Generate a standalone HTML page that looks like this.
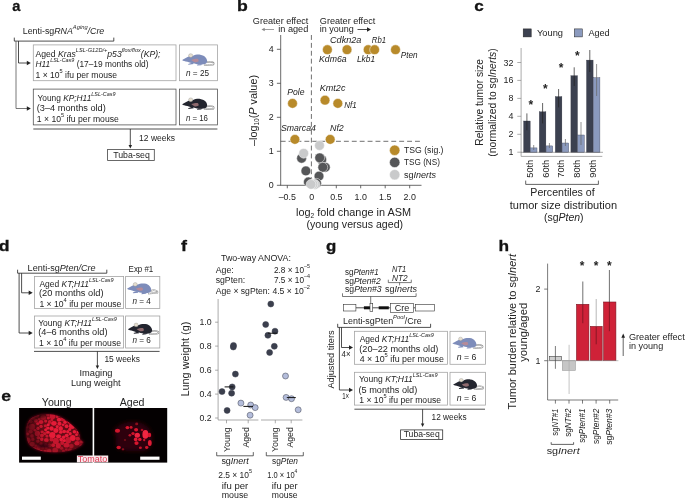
<!DOCTYPE html>
<html><head><meta charset="utf-8"><title>Figure</title>
<style>
html,body{margin:0;padding:0;background:#fff;overflow:hidden}
svg{display:block}
svg text{font-family:"Liberation Sans",sans-serif;fill:#242424}
</style></head><body>
<svg width="685" height="499" viewBox="0 0 685 499">
<rect width="685" height="499" fill="#fff"/>
<text x="12.27" y="10.9" font-size="15.0" font-weight="bold" style="fill:#141414" stroke="#141414" stroke-width="0.3" textLength="8.14" lengthAdjust="spacingAndGlyphs">a</text>
<text x="22.8" y="34.3" font-size="8.9" textLength="81.5" lengthAdjust="spacingAndGlyphs">Lenti-sg<tspan font-style="italic">RNA</tspan><tspan font-size="5.8" baseline-shift="5.4" font-style="italic">Aging</tspan><tspan font-style="italic">/Cre</tspan></text>
<path d="M14.3 37.6 V41.1 H113.8 V37.6" stroke="#222" stroke-width="0.8" fill="none" />
<path d="M16 41.1 V108.5 H27" stroke="#555" stroke-width="0.8" fill="none" />
<path d="M18.5 41.1 V63 H27" stroke="#222" stroke-width="0.8" fill="none" />
<path d="M30.8 63 L26.8 60.8 L26.8 65.2Z" fill="#222"/>
<path d="M30.8 108.5 L26.8 106.3 L26.8 110.7Z" fill="#222"/>
<rect x="33.3" y="44.9" width="142.7" height="35.8" fill="none" stroke="#a4a4a4" stroke-width="0.8" />
<rect x="179.5" y="44.9" width="37.9" height="35.8" fill="none" stroke="#a4a4a4" stroke-width="0.8" />
<rect x="33.3" y="89.1" width="142.7" height="35.8" fill="none" stroke="#555" stroke-width="0.8" />
<rect x="179.5" y="89.1" width="37.9" height="35.8" fill="none" stroke="#555" stroke-width="0.8" />
<text x="35.5" y="56.7" font-size="8.9" textLength="125" lengthAdjust="spacingAndGlyphs">Aged <tspan font-style="italic">Kras</tspan><tspan font-size="5.8" baseline-shift="5.4" font-style="italic">LSL-G12D/+</tspan><tspan font-style="italic">p53</tspan><tspan font-size="5.8" baseline-shift="5.4" font-style="italic">flox/flox</tspan><tspan font-style="italic">(KP);</tspan></text>
<text x="35.5" y="67.2" font-size="8.9" textLength="113" lengthAdjust="spacingAndGlyphs"><tspan font-style="italic">H11</tspan><tspan font-size="5.8" baseline-shift="5.4" font-style="italic">LSL-Cas9</tspan> (17–19 months old)</text>
<text x="35.5" y="77.9" font-size="8.9" textLength="81.5" lengthAdjust="spacingAndGlyphs">1 × 10<tspan font-size="5.8" baseline-shift="5.2">5</tspan> ifu per mouse</text>
<text x="37.5" y="100.5" font-size="8.9" textLength="78" lengthAdjust="spacingAndGlyphs">Young <tspan font-style="italic">KP;H11</tspan><tspan font-size="5.8" baseline-shift="5.4" font-style="italic">LSL-Cas9</tspan></text>
<text x="36.8" y="111.3" font-size="8.9" textLength="69" lengthAdjust="spacingAndGlyphs">(3–4 months old)</text>
<text x="36.8" y="121.9" font-size="8.9" textLength="82" lengthAdjust="spacingAndGlyphs">1 × 10<tspan font-size="5.8" baseline-shift="5.2">5</tspan> ifu per mouse</text>
<g transform="translate(182.2 59.8) scale(1.0)">
<path d="M23.6 2.6 C26 1.9 28.6 1.6 30.4 2.4 C32.2 3.3 31.8 5 29.8 5 C27.4 4.9 25 4.6 22.4 5.3" fill="none" stroke="#6e6e6e" stroke-width="1.5" stroke-linecap="round"/>
<path d="M23.6 2.6 C26 1.9 28.6 1.6 30.4 2.4 C32.2 3.3 31.8 5 29.8 5 C27.4 4.9 25 4.6 22.4 5.3" fill="none" stroke="#fff" stroke-width="0.8" stroke-linecap="round"/>
<path d="M10.5 2.6 L6 4.2 L6.2 4.9 L11.6 4.3 Z M16 4.4 L14.8 5.3 L15 5.8 L19 5.4 L20 4.6Z" fill="#7d8cba"/>
<path d="M0 0.3 C2.2 -1 4.8 -2.6 7.2 -3.5 C8.5 -3.6 9.6 -3.4 10.6 -3.8 C12.6 -5 15.6 -5.4 18 -5.1 C20.6 -4.8 22.4 -3.6 23.4 -2.4 C24.8 -0.8 25.4 1.4 24.6 2.8 C23.8 4.2 22 4.6 19.6 4.8 C16.5 5 13.8 4.2 11.4 3.5 C9.2 3.4 7 2.6 5.2 2 C3 1.6 0.6 1.3 0 0.3Z" fill="#7d8cba"/>
<ellipse cx="8.5" cy="-4.2" rx="2.1" ry="1.9" fill="#e6dfd0" stroke="#777" stroke-width="0.3"/>
<path d="M9 0.1 C11 -0.7 13.6 -1.2 15.4 -1.1 C16.4 -0.4 16.7 0.8 16.2 1.7 C15 2.3 13.8 2.5 12.6 2.4 C11.2 1.8 10 1 9 0.1Z" fill="#b58a98"/>
</g>
<g transform="translate(182.2 104) scale(1.0)">
<path d="M23.6 2.6 C26 1.9 28.6 1.6 30.4 2.4 C32.2 3.3 31.8 5 29.8 5 C27.4 4.9 25 4.6 22.4 5.3" fill="none" stroke="#6e6e6e" stroke-width="1.5" stroke-linecap="round"/>
<path d="M23.6 2.6 C26 1.9 28.6 1.6 30.4 2.4 C32.2 3.3 31.8 5 29.8 5 C27.4 4.9 25 4.6 22.4 5.3" fill="none" stroke="#fff" stroke-width="0.8" stroke-linecap="round"/>
<path d="M10.5 2.6 L6 4.2 L6.2 4.9 L11.6 4.3 Z M16 4.4 L14.8 5.3 L15 5.8 L19 5.4 L20 4.6Z" fill="#23252f"/>
<path d="M0 0.3 C2.2 -1 4.8 -2.6 7.2 -3.5 C8.5 -3.6 9.6 -3.4 10.6 -3.8 C12.6 -5 15.6 -5.4 18 -5.1 C20.6 -4.8 22.4 -3.6 23.4 -2.4 C24.8 -0.8 25.4 1.4 24.6 2.8 C23.8 4.2 22 4.6 19.6 4.8 C16.5 5 13.8 4.2 11.4 3.5 C9.2 3.4 7 2.6 5.2 2 C3 1.6 0.6 1.3 0 0.3Z" fill="#23252f"/>
<ellipse cx="8.5" cy="-4.2" rx="2.1" ry="1.9" fill="#e6dfd0" stroke="#777" stroke-width="0.3"/>
<path d="M9 0.1 C11 -0.7 13.6 -1.2 15.4 -1.1 C16.4 -0.4 16.7 0.8 16.2 1.7 C15 2.3 13.8 2.5 12.6 2.4 C11.2 1.8 10 1 9 0.1Z" fill="#8f6a6e"/>
</g>
<text x="186" y="76.3" font-size="8.9" textLength="23" lengthAdjust="spacingAndGlyphs"><tspan font-style="italic">n</tspan> = 25</text>
<text x="186" y="120.5" font-size="8.9" textLength="22" lengthAdjust="spacingAndGlyphs"><tspan font-style="italic">n</tspan> = 16</text>
<line x1="33.3" y1="129" x2="217.4" y2="129" stroke="#222" stroke-width="0.8" />
<line x1="130.3" y1="129" x2="130.3" y2="146" stroke="#222" stroke-width="0.8" />
<path d="M130.3 148.6 L128.572 145.0 L132.02800000000002 145.0Z" fill="#222"/>
<text x="139.1" y="140.6" font-size="8.9" textLength="36" lengthAdjust="spacingAndGlyphs">12 weeks</text>
<rect x="107.6" y="149.4" width="46.7" height="11.1" fill="none" stroke="#444" stroke-width="0.8" />
<text x="131.5" y="157.5" font-size="8.9" text-anchor="middle" textLength="36.7" lengthAdjust="spacingAndGlyphs">Tuba-seq</text>
<text x="237.14" y="10.9" font-size="15.0" font-weight="bold" style="fill:#141414" stroke="#141414" stroke-width="0.3" textLength="10.79" lengthAdjust="spacingAndGlyphs">b</text>
<text x="252.8" y="24" font-size="8.9" textLength="55.5" lengthAdjust="spacingAndGlyphs">Greater effect</text>
<text x="308.3" y="32.2" font-size="8.9" text-anchor="end" textLength="30" lengthAdjust="spacingAndGlyphs">in aged</text>
<line x1="264" y1="29.5" x2="274" y2="29.5" stroke="#888" stroke-width="0.8" />
<path d="M261.5 29.5 L264.7 27.74 L264.7 31.26Z" fill="#888"/>
<text x="319.8" y="24" font-size="8.9" textLength="55.5" lengthAdjust="spacingAndGlyphs">Greater effect</text>
<text x="319.8" y="32.2" font-size="8.9" textLength="34" lengthAdjust="spacingAndGlyphs">in young</text>
<line x1="357.5" y1="29.5" x2="368" y2="29.5" stroke="#222" stroke-width="0.8" />
<path d="M371 29.5 L367 27.3 L367 31.7Z" fill="#222"/>
<line x1="280.7" y1="35" x2="280.7" y2="185.3" stroke="#444" stroke-width="0.8" />
<line x1="280.3" y1="185.3" x2="421.5" y2="185.3" stroke="#444" stroke-width="0.8" />
<line x1="276.9" y1="49.3" x2="280.7" y2="49.3" stroke="#444" stroke-width="0.8" />
<text x="273.7" y="52.3" font-size="8.9" text-anchor="end">4</text>
<line x1="276.9" y1="83.3" x2="280.7" y2="83.3" stroke="#444" stroke-width="0.8" />
<text x="273.7" y="86.3" font-size="8.9" text-anchor="end">3</text>
<line x1="276.9" y1="117.3" x2="280.7" y2="117.3" stroke="#444" stroke-width="0.8" />
<text x="273.7" y="120.3" font-size="8.9" text-anchor="end">2</text>
<line x1="276.9" y1="151.3" x2="280.7" y2="151.3" stroke="#444" stroke-width="0.8" />
<text x="273.7" y="154.3" font-size="8.9" text-anchor="end">1</text>
<line x1="276.9" y1="185.3" x2="280.7" y2="185.3" stroke="#444" stroke-width="0.8" />
<text x="273.7" y="188.3" font-size="8.9" text-anchor="end">0</text>
<line x1="287.3" y1="185.3" x2="287.3" y2="188.3" stroke="#444" stroke-width="0.8" />
<text x="287.3" y="199.8" font-size="8.9" text-anchor="middle">–0.5</text>
<line x1="311.8" y1="185.3" x2="311.8" y2="188.3" stroke="#444" stroke-width="0.8" />
<text x="311.8" y="199.8" font-size="8.9" text-anchor="middle">0</text>
<line x1="336.3" y1="185.3" x2="336.3" y2="188.3" stroke="#444" stroke-width="0.8" />
<text x="336.3" y="199.8" font-size="8.9" text-anchor="middle">0.5</text>
<line x1="360.7" y1="185.3" x2="360.7" y2="188.3" stroke="#444" stroke-width="0.8" />
<text x="360.7" y="199.8" font-size="8.9" text-anchor="middle">1.0</text>
<line x1="385.2" y1="185.3" x2="385.2" y2="188.3" stroke="#444" stroke-width="0.8" />
<text x="385.2" y="199.8" font-size="8.9" text-anchor="middle">1.5</text>
<line x1="409.7" y1="185.3" x2="409.7" y2="188.3" stroke="#444" stroke-width="0.8" />
<text x="409.7" y="199.8" font-size="8.9" text-anchor="middle">2.0</text>
<line x1="311.4" y1="35" x2="311.4" y2="185.3" stroke="#333" stroke-width="0.7" stroke-dasharray="4.9 3"/>
<line x1="280.7" y1="141.3" x2="421.5" y2="141.3" stroke="#333" stroke-width="0.7" stroke-dasharray="4.9 3"/>
<text x="257" y="110.5" font-size="10.7" text-anchor="middle" textLength="71" lengthAdjust="spacingAndGlyphs" transform="rotate(-90 257 110.5)">–log<tspan font-size="6.5" baseline-shift="-2">10</tspan>(<tspan font-style="italic">P</tspan> value)</text>
<circle cx="301.6" cy="158.3" r="4.9" fill="#555658" stroke="#fff" stroke-width="0.5"/>
<circle cx="303.7" cy="153.3" r="4.9" fill="#c9cacb" stroke="#fff" stroke-width="0.5"/>
<circle cx="319.5" cy="145.5" r="4.9" fill="#c9cacb" stroke="#fff" stroke-width="0.5"/>
<circle cx="321.7" cy="159.8" r="4.9" fill="#555658" stroke="#fff" stroke-width="0.5"/>
<circle cx="319.7" cy="157.8" r="4.9" fill="#555658" stroke="#fff" stroke-width="0.5"/>
<circle cx="325.3" cy="167.3" r="4.9" fill="#555658" stroke="#fff" stroke-width="0.5"/>
<circle cx="322.8" cy="167.3" r="4.9" fill="#555658" stroke="#fff" stroke-width="0.5"/>
<circle cx="305.9" cy="170.9" r="4.9" fill="#555658" stroke="#fff" stroke-width="0.5"/>
<circle cx="319" cy="176.1" r="4.9" fill="#555658" stroke="#fff" stroke-width="0.5"/>
<circle cx="308.4" cy="181.9" r="4.9" fill="#555658" stroke="#fff" stroke-width="0.5"/>
<circle cx="316.5" cy="183.3" r="4.9" fill="#555658" stroke="#fff" stroke-width="0.5"/>
<circle cx="315" cy="184.5" r="4.9" fill="#c9cacb" stroke="#fff" stroke-width="0.5"/>
<circle cx="313" cy="184.2" r="4.9" fill="#c9cacb" stroke="#fff" stroke-width="0.5"/>
<circle cx="311" cy="184.4" r="4.9" fill="#c9cacb" stroke="#fff" stroke-width="0.5"/>
<circle cx="327.4" cy="49.7" r="4.9" fill="#b88a2a" stroke="#fff" stroke-width="0.5"/>
<circle cx="347" cy="49.7" r="4.9" fill="#b88a2a" stroke="#fff" stroke-width="0.5"/>
<circle cx="368.2" cy="49.7" r="4.9" fill="#b88a2a" stroke="#fff" stroke-width="0.5"/>
<circle cx="374.6" cy="49.7" r="4.9" fill="#b88a2a" stroke="#fff" stroke-width="0.5"/>
<circle cx="395.5" cy="49.7" r="4.9" fill="#b88a2a" stroke="#fff" stroke-width="0.5"/>
<circle cx="292.5" cy="103.4" r="4.9" fill="#b88a2a" stroke="#fff" stroke-width="0.5"/>
<circle cx="325" cy="100.2" r="4.9" fill="#b88a2a" stroke="#fff" stroke-width="0.5"/>
<circle cx="337.8" cy="103.4" r="4.9" fill="#b88a2a" stroke="#fff" stroke-width="0.5"/>
<circle cx="294.9" cy="139.4" r="4.9" fill="#b88a2a" stroke="#fff" stroke-width="0.5"/>
<circle cx="330.2" cy="139.4" r="4.9" fill="#b88a2a" stroke="#fff" stroke-width="0.5"/>
<text x="330" y="42.9" font-size="8.7" textLength="31.4" lengthAdjust="spacingAndGlyphs" font-style="italic">Cdkn2a</text>
<text x="371.8" y="42.9" font-size="8.7" textLength="14.2" lengthAdjust="spacingAndGlyphs" font-style="italic">Rb1</text>
<text x="319" y="62" font-size="8.7" textLength="27.6" lengthAdjust="spacingAndGlyphs" font-style="italic">Kdm6a</text>
<text x="357" y="62" font-size="8.7" textLength="18" lengthAdjust="spacingAndGlyphs" font-style="italic">Lkb1</text>
<text x="400.7" y="58" font-size="8.7" textLength="16.8" lengthAdjust="spacingAndGlyphs" font-style="italic">Pten</text>
<text x="287.3" y="95.4" font-size="8.7" textLength="17.2" lengthAdjust="spacingAndGlyphs" font-style="italic">Pole</text>
<text x="319.8" y="91.4" font-size="8.7" textLength="25.6" lengthAdjust="spacingAndGlyphs" font-style="italic">Kmt2c</text>
<text x="344.2" y="108.2" font-size="8.7" textLength="12.4" lengthAdjust="spacingAndGlyphs" font-style="italic">Nf1</text>
<text x="280.9" y="131" font-size="8.7" textLength="35" lengthAdjust="spacingAndGlyphs" font-style="italic">Smarca4</text>
<text x="330" y="131" font-size="8.7" textLength="13.8" lengthAdjust="spacingAndGlyphs" font-style="italic">Nf2</text>
<circle cx="394.7" cy="150.3" r="5.2" fill="#b88a2a" stroke="#fff" stroke-width="0.5"/>
<text x="404" y="153.2" font-size="8.9" textLength="39.5" lengthAdjust="spacingAndGlyphs">TSG (sig.)</text>
<circle cx="394.7" cy="162.4" r="5.2" fill="#555658" stroke="#fff" stroke-width="0.5"/>
<text x="404" y="165.4" font-size="8.9" textLength="36" lengthAdjust="spacingAndGlyphs">TSG (NS)</text>
<circle cx="394.7" cy="174.7" r="5.2" fill="#c9cacb" stroke="#fff" stroke-width="0.5"/>
<text x="404" y="177.7" font-size="8.9" textLength="32" lengthAdjust="spacingAndGlyphs">sg<tspan font-style="italic">Inerts</tspan></text>
<text x="353.5" y="216" font-size="10.7" text-anchor="middle" textLength="115" lengthAdjust="spacingAndGlyphs">log<tspan font-size="6.5" baseline-shift="-2.2">2</tspan> fold change in ASM</text>
<text x="354.8" y="228.4" font-size="10.7" text-anchor="middle" textLength="96.5" lengthAdjust="spacingAndGlyphs">(young versus aged)</text>
<text x="474.33" y="10.9" font-size="15.0" font-weight="bold" style="fill:#141414" stroke="#141414" stroke-width="0.3" textLength="9.46" lengthAdjust="spacingAndGlyphs">c</text>
<rect x="523.2" y="28.9" width="8" height="8" fill="#3c4150" stroke="#222" stroke-width="0.5" />
<text x="537" y="35.7" font-size="8.9" textLength="26" lengthAdjust="spacingAndGlyphs">Young</text>
<rect x="574.3" y="28.9" width="8" height="8" fill="#8b9abe" stroke="#222" stroke-width="0.5" />
<text x="588.4" y="35.7" font-size="8.9" textLength="21.3" lengthAdjust="spacingAndGlyphs">Aged</text>
<line x1="521.1" y1="48" x2="521.1" y2="156.4" stroke="#888" stroke-width="0.7" />
<line x1="521.1" y1="156.4" x2="602.3" y2="156.4" stroke="#888" stroke-width="0.7" />
<line x1="517.3" y1="62.5" x2="521.1" y2="62.5" stroke="#888" stroke-width="0.7" />
<text x="513.4" y="65.5" font-size="8.9" text-anchor="end">32</text>
<line x1="517.3" y1="80.4" x2="521.1" y2="80.4" stroke="#888" stroke-width="0.7" />
<text x="513.4" y="83.4" font-size="8.9" text-anchor="end">16</text>
<line x1="517.3" y1="98.4" x2="521.1" y2="98.4" stroke="#888" stroke-width="0.7" />
<text x="513.4" y="101.4" font-size="8.9" text-anchor="end">8</text>
<line x1="517.3" y1="116.3" x2="521.1" y2="116.3" stroke="#888" stroke-width="0.7" />
<text x="513.4" y="119.3" font-size="8.9" text-anchor="end">4</text>
<line x1="517.3" y1="134.3" x2="521.1" y2="134.3" stroke="#888" stroke-width="0.7" />
<text x="513.4" y="137.3" font-size="8.9" text-anchor="end">2</text>
<line x1="517.3" y1="152.2" x2="521.1" y2="152.2" stroke="#888" stroke-width="0.7" />
<text x="513.4" y="155.2" font-size="8.9" text-anchor="end">1</text>
<rect x="523.6" y="121" width="6.6" height="31.30000000000001" fill="#3c4150" stroke="#2a2d38" stroke-width="0.3" />
<rect x="530.4" y="147.9" width="6.6" height="4.400000000000006" fill="#8b9abe" stroke="#444a60" stroke-width="0.4" />
<line x1="526.9" y1="113.4" x2="526.9" y2="130.2" stroke="#222" stroke-width="0.7" />
<line x1="533.7" y1="145" x2="533.7" y2="150" stroke="#666" stroke-width="0.7" />
<rect x="539.3000000000001" y="111.8" width="6.6" height="40.500000000000014" fill="#3c4150" stroke="#2a2d38" stroke-width="0.3" />
<rect x="546.1" y="145.9" width="6.6" height="6.400000000000006" fill="#8b9abe" stroke="#444a60" stroke-width="0.4" />
<line x1="542.6" y1="103" x2="542.6" y2="123.4" stroke="#222" stroke-width="0.7" />
<line x1="549.4000000000001" y1="143" x2="549.4000000000001" y2="148" stroke="#666" stroke-width="0.7" />
<rect x="555.3000000000001" y="96.6" width="6.6" height="55.70000000000002" fill="#3c4150" stroke="#2a2d38" stroke-width="0.3" />
<rect x="562.1" y="143" width="6.6" height="9.300000000000011" fill="#8b9abe" stroke="#444a60" stroke-width="0.4" />
<line x1="558.6" y1="89" x2="558.6" y2="107.4" stroke="#222" stroke-width="0.7" />
<line x1="565.4000000000001" y1="139" x2="565.4000000000001" y2="146" stroke="#666" stroke-width="0.7" />
<rect x="570.9" y="75.7" width="6.6" height="76.60000000000001" fill="#3c4150" stroke="#2a2d38" stroke-width="0.3" />
<rect x="577.6999999999999" y="135" width="6.6" height="17.30000000000001" fill="#8b9abe" stroke="#444a60" stroke-width="0.4" />
<line x1="574.1999999999999" y1="67.3" x2="574.1999999999999" y2="86" stroke="#222" stroke-width="0.7" />
<line x1="581.0" y1="122" x2="581.0" y2="145" stroke="#666" stroke-width="0.7" />
<rect x="586.5" y="60.1" width="6.6" height="92.20000000000002" fill="#3c4150" stroke="#2a2d38" stroke-width="0.3" />
<rect x="593.3" y="77.7" width="6.6" height="74.60000000000001" fill="#8b9abe" stroke="#444a60" stroke-width="0.4" />
<line x1="589.8" y1="50" x2="589.8" y2="72" stroke="#222" stroke-width="0.7" />
<line x1="596.6" y1="64" x2="596.6" y2="96" stroke="#666" stroke-width="0.7" />
<line x1="521" y1="152.3" x2="603" y2="152.3" stroke="#555" stroke-width="0.5" />
<text x="530.9" y="108.8" font-size="12" text-anchor="middle" font-weight="bold">*</text>
<text x="545.3" y="92.5" font-size="12" text-anchor="middle" font-weight="bold">*</text>
<text x="561.1" y="72.0" font-size="12" text-anchor="middle" font-weight="bold">*</text>
<text x="577.4" y="59.7" font-size="12" text-anchor="middle" font-weight="bold">*</text>
<text x="532.8000000000001" y="177.7" font-size="8.9" textLength="17.9" lengthAdjust="spacingAndGlyphs" transform="rotate(-90 532.8000000000001 177.7)">50th</text>
<text x="548.6" y="177.7" font-size="8.9" textLength="17.9" lengthAdjust="spacingAndGlyphs" transform="rotate(-90 548.6 177.7)">60th</text>
<text x="564.2" y="177.7" font-size="8.9" textLength="17.9" lengthAdjust="spacingAndGlyphs" transform="rotate(-90 564.2 177.7)">70th</text>
<text x="580.3000000000001" y="177.7" font-size="8.9" textLength="17.9" lengthAdjust="spacingAndGlyphs" transform="rotate(-90 580.3000000000001 177.7)">80th</text>
<text x="595.9" y="177.7" font-size="8.9" textLength="17.9" lengthAdjust="spacingAndGlyphs" transform="rotate(-90 595.9 177.7)">90th</text>
<path d="M525.7 180.6 V184.4 H598.4 V180.6" stroke="#222" stroke-width="0.7" fill="none" />
<text x="562.5" y="196.4" font-size="10.7" text-anchor="middle" textLength="64.3" lengthAdjust="spacingAndGlyphs">Percentiles of</text>
<text x="563.4" y="208.8" font-size="10.7" text-anchor="middle" textLength="107.3" lengthAdjust="spacingAndGlyphs">tumor size distribution</text>
<text x="563.8" y="221" font-size="10.7" text-anchor="middle" textLength="39.6" lengthAdjust="spacingAndGlyphs">(sg<tspan font-style="italic">Pten</tspan>)</text>
<text x="483" y="102.3" font-size="10.7" text-anchor="middle" textLength="86.7" lengthAdjust="spacingAndGlyphs" transform="rotate(-90 483 102.3)">Relative tumor size</text>
<text x="495.6" y="102.5" font-size="10.7" text-anchor="middle" textLength="108.3" lengthAdjust="spacingAndGlyphs" transform="rotate(-90 495.6 102.5)">(normalized to sg<tspan font-style="italic">Inerts</tspan>)</text>
<text x="-1.32" y="250.7" font-size="15.0" font-weight="bold" style="fill:#141414" stroke="#141414" stroke-width="0.3" textLength="10.79" lengthAdjust="spacingAndGlyphs">d</text>
<text x="27.6" y="270.7" font-size="8.9" textLength="68" lengthAdjust="spacingAndGlyphs">Lenti-sg<tspan font-style="italic">Pten/Cre</tspan></text>
<text x="128.6" y="272" font-size="8.9" textLength="24.7" lengthAdjust="spacingAndGlyphs">Exp #1</text>
<path d="M17.6 269.7 V273.2 H106.8 V269.7" stroke="#222" stroke-width="0.8" fill="none" />
<path d="M19.1 273.2 V333 H29.7" stroke="#222" stroke-width="0.8" fill="none" />
<path d="M21.6 273.2 V292.8 H29.7" stroke="#222" stroke-width="0.8" fill="none" />
<path d="M32.7 292.8 L28.700000000000003 290.6 L28.700000000000003 295.0Z" fill="#222"/>
<path d="M32.7 333 L28.700000000000003 330.8 L28.700000000000003 335.2Z" fill="#222"/>
<rect x="34.4" y="276.5" width="89.2" height="31.9" fill="none" stroke="#a4a4a4" stroke-width="0.8" />
<rect x="125.6" y="276.5" width="34.2" height="31.9" fill="none" stroke="#a4a4a4" stroke-width="0.8" />
<rect x="34.4" y="316" width="89.2" height="32" fill="none" stroke="#a4a4a4" stroke-width="0.8" />
<rect x="125.6" y="316" width="34.2" height="32" fill="none" stroke="#a4a4a4" stroke-width="0.8" />
<text x="39.4" y="286.6" font-size="8.9" textLength="74.2" lengthAdjust="spacingAndGlyphs">Aged <tspan font-style="italic">KT;H11</tspan><tspan font-size="5.8" baseline-shift="5.4" font-style="italic">LSL-Cas9</tspan></text>
<text x="39" y="295.6" font-size="8.9" textLength="64.5" lengthAdjust="spacingAndGlyphs">(20 months old)</text>
<text x="39.4" y="306.8" font-size="8.9" textLength="82" lengthAdjust="spacingAndGlyphs">1 × 10<tspan font-size="5.8" baseline-shift="5.2">4</tspan> ifu per mouse</text>
<text x="38.2" y="325.6" font-size="8.9" textLength="78.6" lengthAdjust="spacingAndGlyphs">Young <tspan font-style="italic">KT;H11</tspan><tspan font-size="5.8" baseline-shift="5.4" font-style="italic">LSL-Cas9</tspan></text>
<text x="38.2" y="335.2" font-size="8.9" textLength="69.3" lengthAdjust="spacingAndGlyphs">(4–6 months old)</text>
<text x="39" y="345.8" font-size="8.9" textLength="82" lengthAdjust="spacingAndGlyphs">1 × 10<tspan font-size="5.8" baseline-shift="5.2">4</tspan> ifu per mouse</text>
<g transform="translate(127 288.5) scale(0.97)">
<path d="M23.6 2.6 C26 1.9 28.6 1.6 30.4 2.4 C32.2 3.3 31.8 5 29.8 5 C27.4 4.9 25 4.6 22.4 5.3" fill="none" stroke="#6e6e6e" stroke-width="1.5" stroke-linecap="round"/>
<path d="M23.6 2.6 C26 1.9 28.6 1.6 30.4 2.4 C32.2 3.3 31.8 5 29.8 5 C27.4 4.9 25 4.6 22.4 5.3" fill="none" stroke="#fff" stroke-width="0.8" stroke-linecap="round"/>
<path d="M10.5 2.6 L6 4.2 L6.2 4.9 L11.6 4.3 Z M16 4.4 L14.8 5.3 L15 5.8 L19 5.4 L20 4.6Z" fill="#7d8cba"/>
<path d="M0 0.3 C2.2 -1 4.8 -2.6 7.2 -3.5 C8.5 -3.6 9.6 -3.4 10.6 -3.8 C12.6 -5 15.6 -5.4 18 -5.1 C20.6 -4.8 22.4 -3.6 23.4 -2.4 C24.8 -0.8 25.4 1.4 24.6 2.8 C23.8 4.2 22 4.6 19.6 4.8 C16.5 5 13.8 4.2 11.4 3.5 C9.2 3.4 7 2.6 5.2 2 C3 1.6 0.6 1.3 0 0.3Z" fill="#7d8cba"/>
<ellipse cx="8.5" cy="-4.2" rx="2.1" ry="1.9" fill="#e6dfd0" stroke="#777" stroke-width="0.3"/>
<path d="M9 0.1 C11 -0.7 13.6 -1.2 15.4 -1.1 C16.4 -0.4 16.7 0.8 16.2 1.7 C15 2.3 13.8 2.5 12.6 2.4 C11.2 1.8 10 1 9 0.1Z" fill="#b58a98"/>
</g>
<g transform="translate(127.9 329) scale(0.97)">
<path d="M23.6 2.6 C26 1.9 28.6 1.6 30.4 2.4 C32.2 3.3 31.8 5 29.8 5 C27.4 4.9 25 4.6 22.4 5.3" fill="none" stroke="#6e6e6e" stroke-width="1.5" stroke-linecap="round"/>
<path d="M23.6 2.6 C26 1.9 28.6 1.6 30.4 2.4 C32.2 3.3 31.8 5 29.8 5 C27.4 4.9 25 4.6 22.4 5.3" fill="none" stroke="#fff" stroke-width="0.8" stroke-linecap="round"/>
<path d="M10.5 2.6 L6 4.2 L6.2 4.9 L11.6 4.3 Z M16 4.4 L14.8 5.3 L15 5.8 L19 5.4 L20 4.6Z" fill="#23252f"/>
<path d="M0 0.3 C2.2 -1 4.8 -2.6 7.2 -3.5 C8.5 -3.6 9.6 -3.4 10.6 -3.8 C12.6 -5 15.6 -5.4 18 -5.1 C20.6 -4.8 22.4 -3.6 23.4 -2.4 C24.8 -0.8 25.4 1.4 24.6 2.8 C23.8 4.2 22 4.6 19.6 4.8 C16.5 5 13.8 4.2 11.4 3.5 C9.2 3.4 7 2.6 5.2 2 C3 1.6 0.6 1.3 0 0.3Z" fill="#23252f"/>
<ellipse cx="8.5" cy="-4.2" rx="2.1" ry="1.9" fill="#e6dfd0" stroke="#777" stroke-width="0.3"/>
<path d="M9 0.1 C11 -0.7 13.6 -1.2 15.4 -1.1 C16.4 -0.4 16.7 0.8 16.2 1.7 C15 2.3 13.8 2.5 12.6 2.4 C11.2 1.8 10 1 9 0.1Z" fill="#8f6a6e"/>
</g>
<text x="132.4" y="303.8" font-size="8.9" textLength="18.4" lengthAdjust="spacingAndGlyphs"><tspan font-style="italic">n</tspan> = 4</text>
<text x="132.4" y="343.3" font-size="8.9" textLength="18.4" lengthAdjust="spacingAndGlyphs"><tspan font-style="italic">n</tspan> = 6</text>
<line x1="34" y1="351.4" x2="159.6" y2="351.4" stroke="#222" stroke-width="0.8" />
<line x1="97.4" y1="351.4" x2="97.4" y2="366" stroke="#222" stroke-width="0.8" />
<path d="M97.4 369 L95.67200000000001 365.4 L99.128 365.4Z" fill="#222"/>
<text x="104.4" y="362" font-size="8.9" textLength="35.6" lengthAdjust="spacingAndGlyphs">15 weeks</text>
<text x="96" y="376" font-size="8.9" text-anchor="middle" textLength="33" lengthAdjust="spacingAndGlyphs">Imaging</text>
<text x="95.8" y="385.7" font-size="8.9" text-anchor="middle" textLength="49.6" lengthAdjust="spacingAndGlyphs">Lung weight</text>
<text x="1.31" y="401" font-size="15.0" font-weight="bold" style="fill:#141414" stroke="#141414" stroke-width="0.3" textLength="9.79" lengthAdjust="spacingAndGlyphs">e</text>
<text x="56.7" y="405.8" font-size="10.7" text-anchor="middle" textLength="29.7" lengthAdjust="spacingAndGlyphs">Young</text>
<text x="132.1" y="405.8" font-size="10.7" text-anchor="middle" textLength="24.8" lengthAdjust="spacingAndGlyphs">Aged</text>
<defs><filter id="bl" x="-10%" y="-10%" width="120%" height="120%"><feGaussianBlur stdDeviation="0.55"/></filter><filter id="bl2" x="-20%" y="-20%" width="140%" height="140%"><feGaussianBlur stdDeviation="1.5"/></filter><filter id="bl3" x="-30%" y="-30%" width="160%" height="160%"><feGaussianBlur stdDeviation="2.2"/></filter><clipPath id="cl1"><path d="M26.3 431 C26.5 426 28 421 31 418.5 C35 415.5 42 414 49.9 414.2 C56 414.6 60 416.5 63.1 418.5 C67.5 421 71 423.8 73.6 426.5 C76 429 78 431 78.8 433 C79.8 435.5 79.6 437.5 80.1 439.1 C81 441 83.5 441.3 83.5 442.3 C83 444.5 81 445.8 78.8 447 C75.5 449 72 450.3 68.3 450.9 C63 452 58 452.3 52.5 452.3 C47 452.2 41 451.4 36.8 449.6 C32.5 447.8 29.8 445.8 28.4 443.1 C27 440 26.2 435.5 26.3 431Z"/></clipPath></defs>
<rect x="19.1" y="408" width="73.5" height="54.6" fill="#040001"/>
<rect x="94.2" y="408" width="73" height="54.6" fill="#040001"/>
<path d="M26.3 431 C26.5 426 28 421 31 418.5 C35 415.5 42 414 49.9 414.2 C56 414.6 60 416.5 63.1 418.5 C67.5 421 71 423.8 73.6 426.5 C76 429 78 431 78.8 433 C79.8 435.5 79.6 437.5 80.1 439.1 C81 441 83.5 441.3 83.5 442.3 C83 444.5 81 445.8 78.8 447 C75.5 449 72 450.3 68.3 450.9 C63 452 58 452.3 52.5 452.3 C47 452.2 41 451.4 36.8 449.6 C32.5 447.8 29.8 445.8 28.4 443.1 C27 440 26.2 435.5 26.3 431Z" fill="#7c0a1c" filter="url(#bl2)"/>
<g clip-path="url(#cl1)"><g filter="url(#bl)">
<rect x="20" y="410" width="70" height="45" fill="#640816"/>
<ellipse cx="52.3" cy="435.2" rx="3.2" ry="3.1" fill="#e41c38"/>
<ellipse cx="37.3" cy="433.4" rx="2.6" ry="2.7" fill="#c4182e"/>
<ellipse cx="71.4" cy="418.4" rx="2.0" ry="2.2" fill="#c4182e"/>
<ellipse cx="32.1" cy="444.1" rx="2.7" ry="2.3" fill="#a21226"/>
<ellipse cx="29.3" cy="450.4" rx="3.2" ry="3.4" fill="#a21226"/>
<ellipse cx="63.6" cy="437.2" rx="1.8" ry="1.7" fill="#e41c38"/>
<ellipse cx="27.8" cy="434.0" rx="1.6" ry="1.4" fill="#a21226"/>
<ellipse cx="37.7" cy="423.7" rx="1.6" ry="1.4" fill="#c4182e"/>
<ellipse cx="64.1" cy="431.5" rx="2.0" ry="1.8" fill="#e41c38"/>
<ellipse cx="82.9" cy="450.8" rx="3.0" ry="2.7" fill="#a21226"/>
<ellipse cx="66.6" cy="426.3" rx="1.9" ry="2.0" fill="#e41c38"/>
<ellipse cx="43.2" cy="417.5" rx="2.9" ry="2.5" fill="#a21226"/>
<ellipse cx="49.4" cy="445.5" rx="2.2" ry="2.1" fill="#a21226"/>
<ellipse cx="80.7" cy="445.5" rx="1.5" ry="1.4" fill="#a21226"/>
<ellipse cx="38.7" cy="447.8" rx="2.3" ry="2.6" fill="#a21226"/>
<ellipse cx="81.9" cy="429.3" rx="1.6" ry="1.6" fill="#c4182e"/>
<ellipse cx="62.2" cy="443.0" rx="2.0" ry="2.1" fill="#c4182e"/>
<ellipse cx="31.9" cy="427.0" rx="3.2" ry="3.3" fill="#a21226"/>
<ellipse cx="32.7" cy="417.2" rx="2.9" ry="2.7" fill="#a21226"/>
<ellipse cx="37.7" cy="441.3" rx="1.7" ry="1.7" fill="#a21226"/>
<ellipse cx="63.0" cy="419.2" rx="2.3" ry="2.2" fill="#c4182e"/>
<ellipse cx="72.0" cy="425.9" rx="3.1" ry="3.0" fill="#e41c38"/>
<ellipse cx="45.4" cy="425.7" rx="1.6" ry="1.5" fill="#c4182e"/>
<ellipse cx="32.0" cy="436.0" rx="1.9" ry="1.9" fill="#a21226"/>
<ellipse cx="60.7" cy="428.4" rx="2.3" ry="2.5" fill="#e41c38"/>
<ellipse cx="75.5" cy="421.6" rx="1.8" ry="1.7" fill="#c4182e"/>
<ellipse cx="67.3" cy="417.5" rx="1.9" ry="1.5" fill="#c4182e"/>
<ellipse cx="58.3" cy="445.7" rx="2.6" ry="2.8" fill="#c4182e"/>
<ellipse cx="42.7" cy="448.0" rx="1.9" ry="1.6" fill="#a21226"/>
<ellipse cx="30.4" cy="421.3" rx="2.2" ry="2.1" fill="#a21226"/>
<ellipse cx="59.0" cy="419.7" rx="2.2" ry="2.0" fill="#e41c38"/>
<ellipse cx="76.9" cy="450.3" rx="2.7" ry="2.4" fill="#a21226"/>
<ellipse cx="66.3" cy="449.7" rx="1.5" ry="1.4" fill="#a21226"/>
<ellipse cx="44.9" cy="451.0" rx="1.6" ry="1.6" fill="#a21226"/>
<ellipse cx="68.3" cy="440.3" rx="2.9" ry="3.2" fill="#c4182e"/>
<ellipse cx="78.2" cy="427.7" rx="2.7" ry="2.7" fill="#e41c38"/>
<ellipse cx="71.3" cy="446.1" rx="2.5" ry="2.4" fill="#a21226"/>
<ellipse cx="53.9" cy="423.3" rx="2.8" ry="2.4" fill="#e41c38"/>
<ellipse cx="65.0" cy="422.3" rx="1.8" ry="1.7" fill="#e41c38"/>
<ellipse cx="77.7" cy="438.8" rx="2.3" ry="2.0" fill="#c4182e"/>
<ellipse cx="66.7" cy="435.5" rx="2.1" ry="1.7" fill="#e41c38"/>
<ellipse cx="52.5" cy="415.9" rx="3.0" ry="3.3" fill="#c4182e"/>
<ellipse cx="37.0" cy="415.4" rx="2.3" ry="2.4" fill="#a21226"/>
<ellipse cx="46.4" cy="440.1" rx="2.4" ry="2.2" fill="#c4182e"/>
<ellipse cx="72.8" cy="438.1" rx="2.8" ry="3.0" fill="#e41c38"/>
<ellipse cx="81.7" cy="434.3" rx="2.9" ry="2.8" fill="#c4182e"/>
<ellipse cx="55.9" cy="441.0" rx="3.0" ry="3.2" fill="#c4182e"/>
<ellipse cx="80.2" cy="418.1" rx="1.9" ry="1.8" fill="#c4182e"/>
<ellipse cx="42.1" cy="432.0" rx="1.7" ry="1.4" fill="#c4182e"/>
<ellipse cx="61.6" cy="448.3" rx="1.7" ry="1.7" fill="#a21226"/>
<ellipse cx="41.0" cy="422.1" rx="2.5" ry="2.0" fill="#c4182e"/>
<ellipse cx="51.5" cy="428.5" rx="2.2" ry="2.2" fill="#e41c38"/>
<ellipse cx="55.9" cy="430.5" rx="2.6" ry="2.4" fill="#e41c38"/>
<ellipse cx="27.7" cy="440.2" rx="3.0" ry="2.8" fill="#a21226"/>
<ellipse cx="49.7" cy="422.0" rx="1.8" ry="1.9" fill="#c4182e"/>
<ellipse cx="55.2" cy="450.4" rx="2.9" ry="2.8" fill="#a21226"/>
<ellipse cx="48.8" cy="451.0" rx="2.7" ry="2.6" fill="#a21226"/>
<ellipse cx="37.9" cy="428.5" rx="1.7" ry="1.7" fill="#c4182e"/>
<ellipse cx="77.0" cy="443.2" rx="2.6" ry="2.2" fill="#c4182e"/>
<ellipse cx="58.6" cy="436.3" rx="2.6" ry="2.1" fill="#e41c38"/>
<ellipse cx="69.2" cy="421.8" rx="1.9" ry="2.0" fill="#e41c38"/>
<ellipse cx="47.9" cy="432.2" rx="1.9" ry="1.5" fill="#e41c38"/>
<ellipse cx="82.5" cy="438.7" rx="1.9" ry="1.9" fill="#c4182e"/>
<ellipse cx="35.8" cy="420.6" rx="2.1" ry="2.1" fill="#a21226"/>
<ellipse cx="45.6" cy="444.8" rx="1.7" ry="1.6" fill="#a21226"/>
<ellipse cx="45.6" cy="429.8" rx="1.5" ry="1.6" fill="#e41c38"/>
<ellipse cx="41.8" cy="435.4" rx="2.1" ry="1.7" fill="#c4182e"/>
<ellipse cx="47.0" cy="436.1" rx="1.6" ry="1.7" fill="#c4182e"/>
<ellipse cx="38.3" cy="437.8" rx="1.8" ry="1.7" fill="#c4182e"/>
<ellipse cx="76.3" cy="416.8" rx="1.7" ry="1.6" fill="#c4182e"/>
<ellipse cx="41.1" cy="443.9" rx="1.7" ry="1.6" fill="#a21226"/>
<ellipse cx="70.2" cy="433.7" rx="1.6" ry="1.8" fill="#e41c38"/>
<ellipse cx="41.7" cy="439.1" rx="1.8" ry="1.9" fill="#c4182e"/>
<ellipse cx="69.9" cy="450.3" rx="2.2" ry="2.0" fill="#a21226"/>
<ellipse cx="82.8" cy="422.3" rx="3.1" ry="3.4" fill="#c4182e"/>
<ellipse cx="30.7" cy="431.6" rx="2.2" ry="2.1" fill="#a21226"/>
<ellipse cx="27.0" cy="417.4" rx="2.9" ry="3.0" fill="#a21226"/>
<ellipse cx="74.4" cy="431.7" rx="1.8" ry="1.7" fill="#e41c38"/>
<ellipse cx="69.7" cy="429.4" rx="1.6" ry="1.7" fill="#e41c38"/>
<ellipse cx="59.5" cy="423.7" rx="2.1" ry="2.0" fill="#e41c38"/>
<ellipse cx="48.3" cy="418.1" rx="1.6" ry="1.5" fill="#c4182e"/>
<ellipse cx="27.1" cy="426.8" rx="2.0" ry="1.7" fill="#a21226"/>
<ellipse cx="41.1" cy="426.4" rx="1.7" ry="1.7" fill="#c4182e"/>
<ellipse cx="78.0" cy="432.1" rx="1.7" ry="1.5" fill="#e41c38"/>
<ellipse cx="48.2" cy="424.7" rx="1.6" ry="1.5" fill="#e41c38"/>
<ellipse cx="51.5" cy="439.6" rx="2.0" ry="2.0" fill="#c4182e"/>
<ellipse cx="82.3" cy="415.6" rx="1.6" ry="1.4" fill="#a21226"/>
<ellipse cx="66.4" cy="445.2" rx="2.9" ry="2.4" fill="#c4182e"/>
<ellipse cx="60.7" cy="432.2" rx="1.8" ry="1.5" fill="#e41c38"/>
<ellipse cx="45.7" cy="421.1" rx="1.6" ry="1.7" fill="#c4182e"/>
<ellipse cx="34.4" cy="449.3" rx="2.5" ry="2.4" fill="#a21226"/>
<ellipse cx="57.2" cy="426.6" rx="1.6" ry="1.6" fill="#e41c38"/>
<ellipse cx="44.8" cy="433.6" rx="1.8" ry="1.7" fill="#c4182e"/>
<ellipse cx="47.6" cy="415.0" rx="1.8" ry="1.8" fill="#a21226"/>
<ellipse cx="80.8" cy="442.2" rx="1.8" ry="1.6" fill="#a21226"/>
<ellipse cx="32.8" cy="439.2" rx="1.7" ry="1.9" fill="#a21226"/>
<ellipse cx="60.5" cy="415.1" rx="2.1" ry="2.1" fill="#c4182e"/>
<ellipse cx="35.0" cy="430.3" rx="1.5" ry="1.2" fill="#c4182e"/>
<ellipse cx="53.1" cy="445.2" rx="1.9" ry="1.9" fill="#c4182e"/>
<ellipse cx="47.8" cy="428.1" rx="1.7" ry="1.7" fill="#e41c38"/>
<ellipse cx="27.0" cy="445.3" rx="2.3" ry="2.4" fill="#a21226"/>
<ellipse cx="78.4" cy="423.6" rx="1.6" ry="1.7" fill="#c4182e"/>
<ellipse cx="63.1" cy="424.8" rx="1.5" ry="1.3" fill="#e41c38"/>
<ellipse cx="67.7" cy="431.7" rx="1.6" ry="1.7" fill="#e41c38"/>
<ellipse cx="61.2" cy="439.6" rx="1.9" ry="1.9" fill="#e41c38"/>
<ellipse cx="57.1" cy="416.7" rx="1.5" ry="1.6" fill="#c4182e"/>
<ellipse cx="63.5" cy="451.0" rx="1.7" ry="1.5" fill="#a21226"/>
<ellipse cx="46.1" cy="447.9" rx="1.7" ry="1.7" fill="#a21226"/>
<ellipse cx="76.5" cy="434.7" rx="1.5" ry="1.4" fill="#e41c38"/>
<ellipse cx="64.3" cy="440.5" rx="1.6" ry="1.5" fill="#e41c38"/>
<ellipse cx="27.0" cy="423.1" rx="1.9" ry="1.7" fill="#a21226"/>
<ellipse cx="51.9" cy="419.8" rx="1.5" ry="1.4" fill="#c4182e"/>
<ellipse cx="39.2" cy="419.0" rx="1.6" ry="1.3" fill="#a21226"/>
<ellipse cx="41.3" cy="450.9" rx="1.5" ry="1.2" fill="#a21226"/>
<ellipse cx="35.8" cy="445.7" rx="1.6" ry="1.3" fill="#a21226"/>
<ellipse cx="64.4" cy="415.4" rx="1.8" ry="1.9" fill="#c4182e"/>
</g>
<ellipse cx="43.6" cy="445.8" rx="7" ry="3" fill="#2a0308" opacity="0.8" filter="url(#bl2)"/>
<path d="M25 428 C27 419 36 413 46 413.5 L46 417 C38 417 30 422 28.5 430Z" fill="#000" opacity="0.55" filter="url(#bl2)"/>
<ellipse cx="33" cy="436" rx="7" ry="12" fill="#000" opacity="0.28" filter="url(#bl2)"/>
<path d="M60 452 C70 452 80 448 85 442 L85 455 L60 455Z" fill="#000" opacity="0.35" filter="url(#bl2)"/>
</g>
<path d="M114 430 C118 424 128 421 137 422 C146 423 152 430 152.5 438 C152.5 445 150 450 144 451 C134 451.5 124 451 118 449 C115 446 117 441 116 437 C115 434 113 432 114 430Z" fill="#2e040a" filter="url(#bl3)"/>
<g filter="url(#bl)">
<ellipse cx="117.5" cy="430.7" rx="2.6" ry="2" fill="#d0142c"/>
<ellipse cx="127.4" cy="427.6" rx="1.9" ry="1.6" fill="#d8162e"/>
<ellipse cx="131.1" cy="427.4" rx="1.5" ry="1.4" fill="#cc142a"/>
<ellipse cx="136.1" cy="429.8" rx="2" ry="1.7" fill="#d8162e"/>
<ellipse cx="136.7" cy="423.9" rx="1.5" ry="1.3" fill="#8c0c1e"/>
<ellipse cx="133" cy="433.6" rx="1.7" ry="1.5" fill="#d0142c"/>
<ellipse cx="129.9" cy="435.3" rx="1.4" ry="1.3" fill="#b81228"/>
<ellipse cx="137.3" cy="435.3" rx="2.7" ry="2.5" fill="#ee2440"/>
<ellipse cx="145.4" cy="434.4" rx="3" ry="4.4" fill="#f02642"/>
<ellipse cx="149.4" cy="435" rx="1.8" ry="2.2" fill="#d8162e"/>
<ellipse cx="135.7" cy="439.4" rx="1.9" ry="1.8" fill="#e01a34"/>
<ellipse cx="139.8" cy="439.4" rx="1.8" ry="1.7" fill="#dc1832"/>
<ellipse cx="136.5" cy="443.1" rx="2.1" ry="1.9" fill="#d8162e"/>
<ellipse cx="149.8" cy="443.1" rx="1.9" ry="3" fill="#e01a34"/>
<ellipse cx="146.7" cy="447.5" rx="1.7" ry="1.4" fill="#d0142c"/>
<ellipse cx="140.4" cy="447.7" rx="1.5" ry="1.2" fill="#c4142a"/>
<ellipse cx="118.7" cy="447.5" rx="2.2" ry="1.8" fill="#cc142a"/>
<ellipse cx="123" cy="449.3" rx="1.3" ry="1.1" fill="#8c0c1e"/>
<ellipse cx="144.2" cy="440" rx="1.2" ry="1.2" fill="#c4142a"/>
<ellipse cx="142" cy="430" rx="1.3" ry="1.2" fill="#a81024"/>
<ellipse cx="125" cy="440" rx="1.2" ry="1.1" fill="#700a18"/>
</g>
<rect x="22" y="456.6" width="18.8" height="3.2" fill="#fff"/>
<rect x="140.2" y="456.6" width="19.3" height="3.2" fill="#fff"/>
<rect x="76.9" y="455.5" width="31.3" height="6.9" fill="#fbe9ec"/>
<text x="92.6" y="462" font-size="8.9" text-anchor="middle" textLength="29.5" lengthAdjust="spacingAndGlyphs" style="fill:#dc3a54">Tomato</text>
<text x="180.99" y="250.7" font-size="15.0" font-weight="bold" style="fill:#141414" stroke="#141414" stroke-width="0.3" textLength="5.97" lengthAdjust="spacingAndGlyphs">f</text>
<text x="221" y="261.3" font-size="8.9" textLength="70" lengthAdjust="spacingAndGlyphs">Two-way ANOVA:</text>
<text x="215.7" y="273.4" font-size="8.9" textLength="18" lengthAdjust="spacingAndGlyphs">Age:</text>
<text x="310" y="273.4" font-size="8.9" text-anchor="end" textLength="36" lengthAdjust="spacingAndGlyphs">2.8 × 10<tspan font-size="5.8" baseline-shift="5.2">–5</tspan></text>
<text x="215.7" y="283.3" font-size="8.9" textLength="29.5" lengthAdjust="spacingAndGlyphs">sgPten:</text>
<text x="310" y="283.3" font-size="8.9" text-anchor="end" textLength="36" lengthAdjust="spacingAndGlyphs">7.5 × 10<tspan font-size="5.8" baseline-shift="5.2">–4</tspan></text>
<text x="215.7" y="293.8" font-size="8.9" textLength="94.3" lengthAdjust="spacingAndGlyphs">Age × sgPten: 4.5 × 10<tspan font-size="5.8" baseline-shift="5.2">–2</tspan></text>
<line x1="218.1" y1="299" x2="218.1" y2="420" stroke="#888" stroke-width="0.7" />
<line x1="215.1" y1="322.2" x2="218.1" y2="322.2" stroke="#888" stroke-width="0.7" />
<text x="211.6" y="325.3" font-size="8.9" text-anchor="end" textLength="12.2" lengthAdjust="spacingAndGlyphs">1.0</text>
<line x1="215.1" y1="346.1" x2="218.1" y2="346.1" stroke="#888" stroke-width="0.7" />
<text x="211.6" y="349.20000000000005" font-size="8.9" text-anchor="end" textLength="12.2" lengthAdjust="spacingAndGlyphs">0.8</text>
<line x1="215.1" y1="370.2" x2="218.1" y2="370.2" stroke="#888" stroke-width="0.7" />
<text x="211.6" y="373.3" font-size="8.9" text-anchor="end" textLength="12.2" lengthAdjust="spacingAndGlyphs">0.6</text>
<line x1="215.1" y1="394.1" x2="218.1" y2="394.1" stroke="#888" stroke-width="0.7" />
<text x="211.6" y="397.20000000000005" font-size="8.9" text-anchor="end" textLength="12.2" lengthAdjust="spacingAndGlyphs">0.4</text>
<line x1="215.1" y1="418" x2="218.1" y2="418" stroke="#888" stroke-width="0.7" />
<text x="211.6" y="421.1" font-size="8.9" text-anchor="end" textLength="12.2" lengthAdjust="spacingAndGlyphs">0.2</text>
<line x1="218.1" y1="420" x2="258.4" y2="420" stroke="#888" stroke-width="0.7" />
<line x1="261" y1="420" x2="302.4" y2="420" stroke="#888" stroke-width="0.7" />
<line x1="226.5" y1="420" x2="226.5" y2="423.3" stroke="#888" stroke-width="0.7" />
<line x1="248.2" y1="420" x2="248.2" y2="423.3" stroke="#888" stroke-width="0.7" />
<line x1="275.3" y1="420" x2="275.3" y2="423.3" stroke="#888" stroke-width="0.7" />
<line x1="291.2" y1="420" x2="291.2" y2="423.3" stroke="#888" stroke-width="0.7" />
<text x="189" y="359.1" font-size="10.7" text-anchor="middle" textLength="74.8" lengthAdjust="spacingAndGlyphs" transform="rotate(-90 189 359.1)">Lung weight (g)</text>
<circle cx="233.5" cy="345.4" r="3" fill="#3b3f4d" stroke="#3b3f4d" stroke-width="0.5"/>
<circle cx="233.3" cy="347" r="3" fill="#3b3f4d" stroke="#3b3f4d" stroke-width="0.5"/>
<circle cx="235.4" cy="374.1" r="3" fill="#3b3f4d" stroke="#3b3f4d" stroke-width="0.5"/>
<circle cx="232.2" cy="386.9" r="3" fill="#3b3f4d" stroke="#3b3f4d" stroke-width="0.5"/>
<circle cx="222" cy="391.6" r="3" fill="#3b3f4d" stroke="#3b3f4d" stroke-width="0.5"/>
<circle cx="231.6" cy="393.2" r="3" fill="#3b3f4d" stroke="#3b3f4d" stroke-width="0.5"/>
<circle cx="227.1" cy="410.4" r="3" fill="#3b3f4d" stroke="#3b3f4d" stroke-width="0.5"/>
<line x1="224.6" y1="386.9" x2="233.5" y2="386.9" stroke="#111" stroke-width="1" />
<circle cx="240.9" cy="403.1" r="3" fill="#b4bddb" stroke="#3b3f4d" stroke-width="0.5"/>
<circle cx="250.7" cy="405" r="3" fill="#b4bddb" stroke="#3b3f4d" stroke-width="0.5"/>
<circle cx="255.2" cy="407.6" r="3" fill="#b4bddb" stroke="#3b3f4d" stroke-width="0.5"/>
<circle cx="250.1" cy="415.2" r="3" fill="#b4bddb" stroke="#3b3f4d" stroke-width="0.5"/>
<line x1="243.4" y1="406.4" x2="253" y2="406.4" stroke="#111" stroke-width="1" />
<circle cx="270.8" cy="304" r="3" fill="#3b3f4d" stroke="#3b3f4d" stroke-width="0.5"/>
<circle cx="265.7" cy="324.5" r="3" fill="#3b3f4d" stroke="#3b3f4d" stroke-width="0.5"/>
<circle cx="275" cy="331.2" r="3" fill="#3b3f4d" stroke="#3b3f4d" stroke-width="0.5"/>
<circle cx="267.9" cy="335.3" r="3" fill="#3b3f4d" stroke="#3b3f4d" stroke-width="0.5"/>
<circle cx="274.3" cy="346.3" r="3" fill="#3b3f4d" stroke="#3b3f4d" stroke-width="0.5"/>
<circle cx="269.6" cy="352.5" r="3" fill="#3b3f4d" stroke="#3b3f4d" stroke-width="0.5"/>
<line x1="268" y1="333.2" x2="277.4" y2="333.2" stroke="#111" stroke-width="1" />
<circle cx="285.5" cy="376" r="3" fill="#b4bddb" stroke="#3b3f4d" stroke-width="0.5"/>
<circle cx="286.1" cy="397.4" r="3" fill="#b4bddb" stroke="#3b3f4d" stroke-width="0.5"/>
<circle cx="291.5" cy="398.7" r="3" fill="#b4bddb" stroke="#3b3f4d" stroke-width="0.5"/>
<circle cx="298.2" cy="409.8" r="3" fill="#b4bddb" stroke="#3b3f4d" stroke-width="0.5"/>
<line x1="286.8" y1="397.6" x2="295.8" y2="397.6" stroke="#111" stroke-width="1" />
<text x="229.7" y="427.2" font-size="8.9" text-anchor="end" textLength="24.9" lengthAdjust="spacingAndGlyphs" transform="rotate(-90 229.7 427.2)">Young</text>
<text x="249.2" y="427.2" font-size="8.9" text-anchor="end" textLength="20.4" lengthAdjust="spacingAndGlyphs" transform="rotate(-90 249.2 427.2)">Aged</text>
<text x="278.4" y="427.2" font-size="8.9" text-anchor="end" textLength="24.9" lengthAdjust="spacingAndGlyphs" transform="rotate(-90 278.4 427.2)">Young</text>
<text x="293.4" y="427.2" font-size="8.9" text-anchor="end" textLength="20.4" lengthAdjust="spacingAndGlyphs" transform="rotate(-90 293.4 427.2)">Aged</text>
<path d="M216.7 452.1 V455.8 H253.3 V452.1" stroke="#222" stroke-width="0.7" fill="none" />
<path d="M266.3 452.1 V455.8 H303.3 V452.1" stroke="#222" stroke-width="0.7" fill="none" />
<text x="235.1" y="464.3" font-size="8.9" text-anchor="middle" textLength="27.4" lengthAdjust="spacingAndGlyphs">sg<tspan font-style="italic">Inert</tspan></text>
<text x="285" y="464.3" font-size="8.9" text-anchor="middle" textLength="26" lengthAdjust="spacingAndGlyphs">sg<tspan font-style="italic">Pten</tspan></text>
<text x="235.1" y="477.7" font-size="8.9" text-anchor="middle" textLength="33.8" lengthAdjust="spacingAndGlyphs">2.5 × 10<tspan font-size="5.8" baseline-shift="5.2">5</tspan></text>
<text x="235" y="489.2" font-size="8.9" text-anchor="middle" textLength="26.5" lengthAdjust="spacingAndGlyphs">ifu per</text>
<text x="235" y="498.4" font-size="8.9" text-anchor="middle" textLength="26.5" lengthAdjust="spacingAndGlyphs">mouse</text>
<text x="282.3" y="477.7" font-size="8.9" text-anchor="middle" textLength="30" lengthAdjust="spacingAndGlyphs">1.0 × 10<tspan font-size="5.8" baseline-shift="5.2">4</tspan></text>
<text x="284.7" y="489.2" font-size="8.9" text-anchor="middle" textLength="25.8" lengthAdjust="spacingAndGlyphs">ifu per</text>
<text x="284.7" y="498.4" font-size="8.9" text-anchor="middle" textLength="25.8" lengthAdjust="spacingAndGlyphs">mouse</text>
<text x="325.91" y="250.7" font-size="15.0" font-weight="bold" style="fill:#141414" stroke="#141414" stroke-width="0.3" textLength="10.32" lengthAdjust="spacingAndGlyphs">g</text>
<text x="345" y="275.2" font-size="8.9" textLength="33.7" lengthAdjust="spacingAndGlyphs">sg<tspan font-style="italic">Pten#1</tspan></text>
<text x="345" y="283.6" font-size="8.9" textLength="35.8" lengthAdjust="spacingAndGlyphs">sg<tspan font-style="italic">Pten#2</tspan></text>
<text x="345" y="291.7" font-size="8.9" textLength="36.6" lengthAdjust="spacingAndGlyphs">sg<tspan font-style="italic">Pten#3</tspan></text>
<text x="392" y="272.4" font-size="8.9" textLength="14.1" lengthAdjust="spacingAndGlyphs" font-style="italic">NT1</text>
<text x="392" y="280.6" font-size="8.9" textLength="15.7" lengthAdjust="spacingAndGlyphs" font-style="italic">NT2</text>
<path d="M388.3 279.7 V282.6 H411.3 V279.7" stroke="#222" stroke-width="0.6" fill="none" />
<line x1="399.6" y1="282.6" x2="399.6" y2="285.4" stroke="#222" stroke-width="0.6" />
<text x="385.1" y="291.7" font-size="8.9" textLength="31.8" lengthAdjust="spacingAndGlyphs">sg<tspan font-style="italic">Inerts</tspan></text>
<path d="M342.5 293.3 V296.5 H416.1 V293.3" stroke="#222" stroke-width="0.6" fill="none" />
<line x1="370.7" y1="296.5" x2="370.7" y2="303.4" stroke="#222" stroke-width="0.6" />
<line x1="355.9" y1="307.8" x2="390.4" y2="307.8" stroke="#222" stroke-width="0.8" />
<rect x="343.4" y="304.6" width="12.5" height="6.4" fill="#fff" stroke="#333" stroke-width="0.6" />
<line x1="363.9" y1="307.8" x2="370" y2="307.8" stroke="#111" stroke-width="3" />
<rect x="370" y="303.4" width="2.7" height="8.1" fill="#fff" stroke="#333" stroke-width="0.6" />
<line x1="378.7" y1="307.8" x2="388.8" y2="307.8" stroke="#111" stroke-width="3" />
<rect x="390.4" y="303.4" width="23.3" height="8.9" fill="#fff" stroke="#333" stroke-width="0.6" />
<text x="402" y="310.6" font-size="8.9" text-anchor="middle" textLength="14.5" lengthAdjust="spacingAndGlyphs">Cre</text>
<line x1="413.7" y1="307.8" x2="415.3" y2="307.8" stroke="#222" stroke-width="0.8" />
<rect x="415.3" y="304.6" width="19.3" height="6.4" fill="#fff" stroke="#333" stroke-width="0.6" />
<text x="343" y="324.3" font-size="8.9" textLength="78.7" lengthAdjust="spacingAndGlyphs">Lenti-sgPten<tspan font-size="5.8" baseline-shift="5.4" font-style="italic">Pool</tspan>/Cre</text>
<path d="M337.7 323.8 V327.4 H430.6 V323.8" stroke="#222" stroke-width="0.8" fill="none" />
<path d="M339.4 327.4 V390 H350" stroke="#222" stroke-width="0.8" fill="none" />
<path d="M341.5 327.4 V347.5 H350" stroke="#222" stroke-width="0.8" fill="none" />
<path d="M353 347.5 L349 345.3 L349 349.7Z" fill="#222"/>
<path d="M353 390 L349 387.8 L349 392.2Z" fill="#222"/>
<rect x="354.4" y="331.3" width="93.1" height="33" fill="none" stroke="#a4a4a4" stroke-width="0.8" />
<rect x="450" y="331.3" width="35.5" height="33" fill="none" stroke="#a4a4a4" stroke-width="0.8" />
<rect x="354.4" y="372.3" width="93.1" height="32.8" fill="none" stroke="#a4a4a4" stroke-width="0.8" />
<rect x="450" y="372.3" width="35.5" height="32.8" fill="none" stroke="#a4a4a4" stroke-width="0.8" />
<text x="359.7" y="341.8" font-size="8.9" textLength="74.2" lengthAdjust="spacingAndGlyphs">Aged <tspan font-style="italic">KT;H11</tspan><tspan font-size="5.8" baseline-shift="5.4" font-style="italic">LSL-Cas9</tspan></text>
<text x="359.3" y="351.6" font-size="8.9" textLength="79" lengthAdjust="spacingAndGlyphs">(20–22 months old)</text>
<text x="359.7" y="362.2" font-size="8.9" textLength="84.3" lengthAdjust="spacingAndGlyphs">4 × 10<tspan font-size="5.8" baseline-shift="5.2">5</tspan> ifu per mouse</text>
<text x="358.9" y="382.4" font-size="8.9" textLength="78.6" lengthAdjust="spacingAndGlyphs">Young <tspan font-style="italic">KT;H11</tspan><tspan font-size="5.8" baseline-shift="5.4" font-style="italic">LSL-Cas9</tspan></text>
<text x="358.5" y="392.6" font-size="8.9" textLength="58.7" lengthAdjust="spacingAndGlyphs">(5 months old)</text>
<text x="359.3" y="403.2" font-size="8.9" textLength="81.7" lengthAdjust="spacingAndGlyphs">1 × 10<tspan font-size="5.8" baseline-shift="5.2">5</tspan> ifu per mouse</text>
<text x="341.5" y="356.6" font-size="8.9" textLength="9" lengthAdjust="spacingAndGlyphs">4×</text>
<text x="342.2" y="399.4" font-size="8.9" textLength="7" lengthAdjust="spacingAndGlyphs">1×</text>
<g transform="translate(452.4 343) scale(0.96)">
<path d="M23.6 2.6 C26 1.9 28.6 1.6 30.4 2.4 C32.2 3.3 31.8 5 29.8 5 C27.4 4.9 25 4.6 22.4 5.3" fill="none" stroke="#6e6e6e" stroke-width="1.5" stroke-linecap="round"/>
<path d="M23.6 2.6 C26 1.9 28.6 1.6 30.4 2.4 C32.2 3.3 31.8 5 29.8 5 C27.4 4.9 25 4.6 22.4 5.3" fill="none" stroke="#fff" stroke-width="0.8" stroke-linecap="round"/>
<path d="M10.5 2.6 L6 4.2 L6.2 4.9 L11.6 4.3 Z M16 4.4 L14.8 5.3 L15 5.8 L19 5.4 L20 4.6Z" fill="#7d8cba"/>
<path d="M0 0.3 C2.2 -1 4.8 -2.6 7.2 -3.5 C8.5 -3.6 9.6 -3.4 10.6 -3.8 C12.6 -5 15.6 -5.4 18 -5.1 C20.6 -4.8 22.4 -3.6 23.4 -2.4 C24.8 -0.8 25.4 1.4 24.6 2.8 C23.8 4.2 22 4.6 19.6 4.8 C16.5 5 13.8 4.2 11.4 3.5 C9.2 3.4 7 2.6 5.2 2 C3 1.6 0.6 1.3 0 0.3Z" fill="#7d8cba"/>
<ellipse cx="8.5" cy="-4.2" rx="2.1" ry="1.9" fill="#e6dfd0" stroke="#777" stroke-width="0.3"/>
<path d="M9 0.1 C11 -0.7 13.6 -1.2 15.4 -1.1 C16.4 -0.4 16.7 0.8 16.2 1.7 C15 2.3 13.8 2.5 12.6 2.4 C11.2 1.8 10 1 9 0.1Z" fill="#b58a98"/>
</g>
<g transform="translate(453.1 384.3) scale(0.96)">
<path d="M23.6 2.6 C26 1.9 28.6 1.6 30.4 2.4 C32.2 3.3 31.8 5 29.8 5 C27.4 4.9 25 4.6 22.4 5.3" fill="none" stroke="#6e6e6e" stroke-width="1.5" stroke-linecap="round"/>
<path d="M23.6 2.6 C26 1.9 28.6 1.6 30.4 2.4 C32.2 3.3 31.8 5 29.8 5 C27.4 4.9 25 4.6 22.4 5.3" fill="none" stroke="#fff" stroke-width="0.8" stroke-linecap="round"/>
<path d="M10.5 2.6 L6 4.2 L6.2 4.9 L11.6 4.3 Z M16 4.4 L14.8 5.3 L15 5.8 L19 5.4 L20 4.6Z" fill="#23252f"/>
<path d="M0 0.3 C2.2 -1 4.8 -2.6 7.2 -3.5 C8.5 -3.6 9.6 -3.4 10.6 -3.8 C12.6 -5 15.6 -5.4 18 -5.1 C20.6 -4.8 22.4 -3.6 23.4 -2.4 C24.8 -0.8 25.4 1.4 24.6 2.8 C23.8 4.2 22 4.6 19.6 4.8 C16.5 5 13.8 4.2 11.4 3.5 C9.2 3.4 7 2.6 5.2 2 C3 1.6 0.6 1.3 0 0.3Z" fill="#23252f"/>
<ellipse cx="8.5" cy="-4.2" rx="2.1" ry="1.9" fill="#e6dfd0" stroke="#777" stroke-width="0.3"/>
<path d="M9 0.1 C11 -0.7 13.6 -1.2 15.4 -1.1 C16.4 -0.4 16.7 0.8 16.2 1.7 C15 2.3 13.8 2.5 12.6 2.4 C11.2 1.8 10 1 9 0.1Z" fill="#8f6a6e"/>
</g>
<text x="456.7" y="359.7" font-size="8.9" textLength="19.6" lengthAdjust="spacingAndGlyphs"><tspan font-style="italic">n</tspan> = 6</text>
<text x="456.7" y="401.1" font-size="8.9" textLength="19.6" lengthAdjust="spacingAndGlyphs"><tspan font-style="italic">n</tspan> = 6</text>
<text x="334.3" y="359.5" font-size="8.9" text-anchor="middle" textLength="58.1" lengthAdjust="spacingAndGlyphs" transform="rotate(-90 334.3 359.5)">Adjusted titers</text>
<line x1="354.4" y1="409.2" x2="485" y2="409.2" stroke="#222" stroke-width="0.8" />
<line x1="422.6" y1="409.2" x2="422.6" y2="424" stroke="#222" stroke-width="0.8" />
<path d="M422.6 427 L420.872 423.4 L424.32800000000003 423.4Z" fill="#222"/>
<text x="431.6" y="419.7" font-size="8.9" textLength="35" lengthAdjust="spacingAndGlyphs">12 weeks</text>
<rect x="400.6" y="429.9" width="42.1" height="9.6" fill="none" stroke="#333" stroke-width="0.8" />
<text x="421.7" y="437.4" font-size="8.9" text-anchor="middle" textLength="36" lengthAdjust="spacingAndGlyphs">Tuba-seq</text>
<text x="498.49" y="250.8" font-size="15.0" font-weight="bold" style="fill:#141414" stroke="#141414" stroke-width="0.3" textLength="10.58" lengthAdjust="spacingAndGlyphs">h</text>
<line x1="547.6" y1="263.6" x2="547.6" y2="400" stroke="#444" stroke-width="0.7" />
<line x1="544.2" y1="289.1" x2="547.6" y2="289.1" stroke="#444" stroke-width="0.7" />
<text x="540.4" y="292.20000000000005" font-size="8.9" text-anchor="end">2</text>
<line x1="544.2" y1="360.7" x2="547.6" y2="360.7" stroke="#444" stroke-width="0.7" />
<text x="540.4" y="363.8" font-size="8.9" text-anchor="end">1</text>
<line x1="547.6" y1="400" x2="618.2" y2="400" stroke="#444" stroke-width="0.7" />
<line x1="555.4" y1="400" x2="555.4" y2="403.6" stroke="#444" stroke-width="0.7" />
<line x1="569" y1="400" x2="569" y2="403.6" stroke="#444" stroke-width="0.7" />
<line x1="582.5" y1="400" x2="582.5" y2="403.6" stroke="#444" stroke-width="0.7" />
<line x1="596.1" y1="400" x2="596.1" y2="403.6" stroke="#444" stroke-width="0.7" />
<line x1="609.7" y1="400" x2="609.7" y2="403.6" stroke="#444" stroke-width="0.7" />
<rect x="549.6" y="356.4" width="11.8" height="4.300000000000011" fill="#d0d0d0" stroke="#444" stroke-width="0.6" />
<rect x="562.4" y="360.7" width="12.9" height="9.6" fill="#c6c6c6" stroke="#999" stroke-width="0.6" />
<rect x="576.5" y="304.3" width="12.4" height="56.39999999999998" fill="#cf2238" stroke="#7c1622" stroke-width="0.6" />
<rect x="590.4" y="326.4" width="11.8" height="34.30000000000001" fill="#cf2238" stroke="#7c1622" stroke-width="0.6" />
<rect x="603.6" y="302" width="12.3" height="58.69999999999999" fill="#cf2238" stroke="#7c1622" stroke-width="0.6" />
<line x1="547.9" y1="360.7" x2="618.4" y2="360.7" stroke="#999" stroke-width="0.6" />
<line x1="555.4" y1="346" x2="555.4" y2="368.8" stroke="#444" stroke-width="0.7" />
<line x1="569.1" y1="344.8" x2="569.1" y2="394" stroke="#aaa" stroke-width="0.7" />
<line x1="582.8" y1="281.5" x2="582.8" y2="304.3" stroke="#333" stroke-width="0.7" />
<line x1="582.8" y1="304.3" x2="582.8" y2="323.2" stroke="#6a121c" stroke-width="0.7" />
<line x1="596.2" y1="299" x2="596.2" y2="326.4" stroke="#999" stroke-width="0.7" />
<line x1="596.2" y1="326.4" x2="596.2" y2="344.3" stroke="#6a121c" stroke-width="0.7" />
<line x1="609.4" y1="270" x2="609.4" y2="302" stroke="#333" stroke-width="0.7" />
<line x1="609.4" y1="302" x2="609.4" y2="331.2" stroke="#6a121c" stroke-width="0.7" />
<text x="582.2" y="269.7" font-size="12" text-anchor="middle" font-weight="bold">*</text>
<text x="596.2" y="269.7" font-size="12" text-anchor="middle" font-weight="bold">*</text>
<text x="609.4" y="269.7" font-size="12" text-anchor="middle" font-weight="bold">*</text>
<line x1="623.2" y1="336" x2="623.2" y2="356" stroke="#222" stroke-width="0.7" />
<path d="M623.2 333.6 L621.3520000000001 337.8 L625.048 337.8Z" fill="#222"/>
<text x="628.9" y="340" font-size="8.9" textLength="55.8" lengthAdjust="spacingAndGlyphs">Greater effect</text>
<text x="628.9" y="349.2" font-size="8.9" textLength="34.3" lengthAdjust="spacingAndGlyphs">in young</text>
<text x="516.4" y="331.8" font-size="10.7" text-anchor="middle" textLength="155.5" lengthAdjust="spacingAndGlyphs" transform="rotate(-90 516.4 331.8)">Tumor burden relative to sg<tspan font-style="italic">Inert</tspan></text>
<text x="527.3" y="332.3" font-size="10.7" text-anchor="middle" textLength="59" lengthAdjust="spacingAndGlyphs" transform="rotate(-90 527.3 332.3)">young/aged</text>
<text x="557.9" y="408.6" font-size="8.9" text-anchor="end" textLength="27.1" lengthAdjust="spacingAndGlyphs" transform="rotate(-90 557.9 408.6)">sg<tspan font-style="italic">NT#1</tspan></text>
<text x="571.5" y="408.6" font-size="8.9" text-anchor="end" textLength="28.2" lengthAdjust="spacingAndGlyphs" transform="rotate(-90 571.5 408.6)">sg<tspan font-style="italic">NT#2</tspan></text>
<text x="585.1" y="408.6" font-size="8.9" text-anchor="end" textLength="34.1" lengthAdjust="spacingAndGlyphs" transform="rotate(-90 585.1 408.6)">sg<tspan font-style="italic">Pten#1</tspan></text>
<text x="598.9" y="408.6" font-size="8.9" text-anchor="end" textLength="35.4" lengthAdjust="spacingAndGlyphs" transform="rotate(-90 598.9 408.6)">sg<tspan font-style="italic">Pten#2</tspan></text>
<text x="612.5" y="408.6" font-size="8.9" text-anchor="end" textLength="36.2" lengthAdjust="spacingAndGlyphs" transform="rotate(-90 612.5 408.6)">sg<tspan font-style="italic">Pten#3</tspan></text>
<path d="M551.2 442.2 V444.4 H573.6 V442.2" stroke="#222" stroke-width="0.7" fill="none" />
<text x="563.2" y="453.5" font-size="9.4" text-anchor="middle" textLength="33" lengthAdjust="spacingAndGlyphs">sg<tspan font-style="italic">Inert</tspan></text>
</svg>
</body></html>
